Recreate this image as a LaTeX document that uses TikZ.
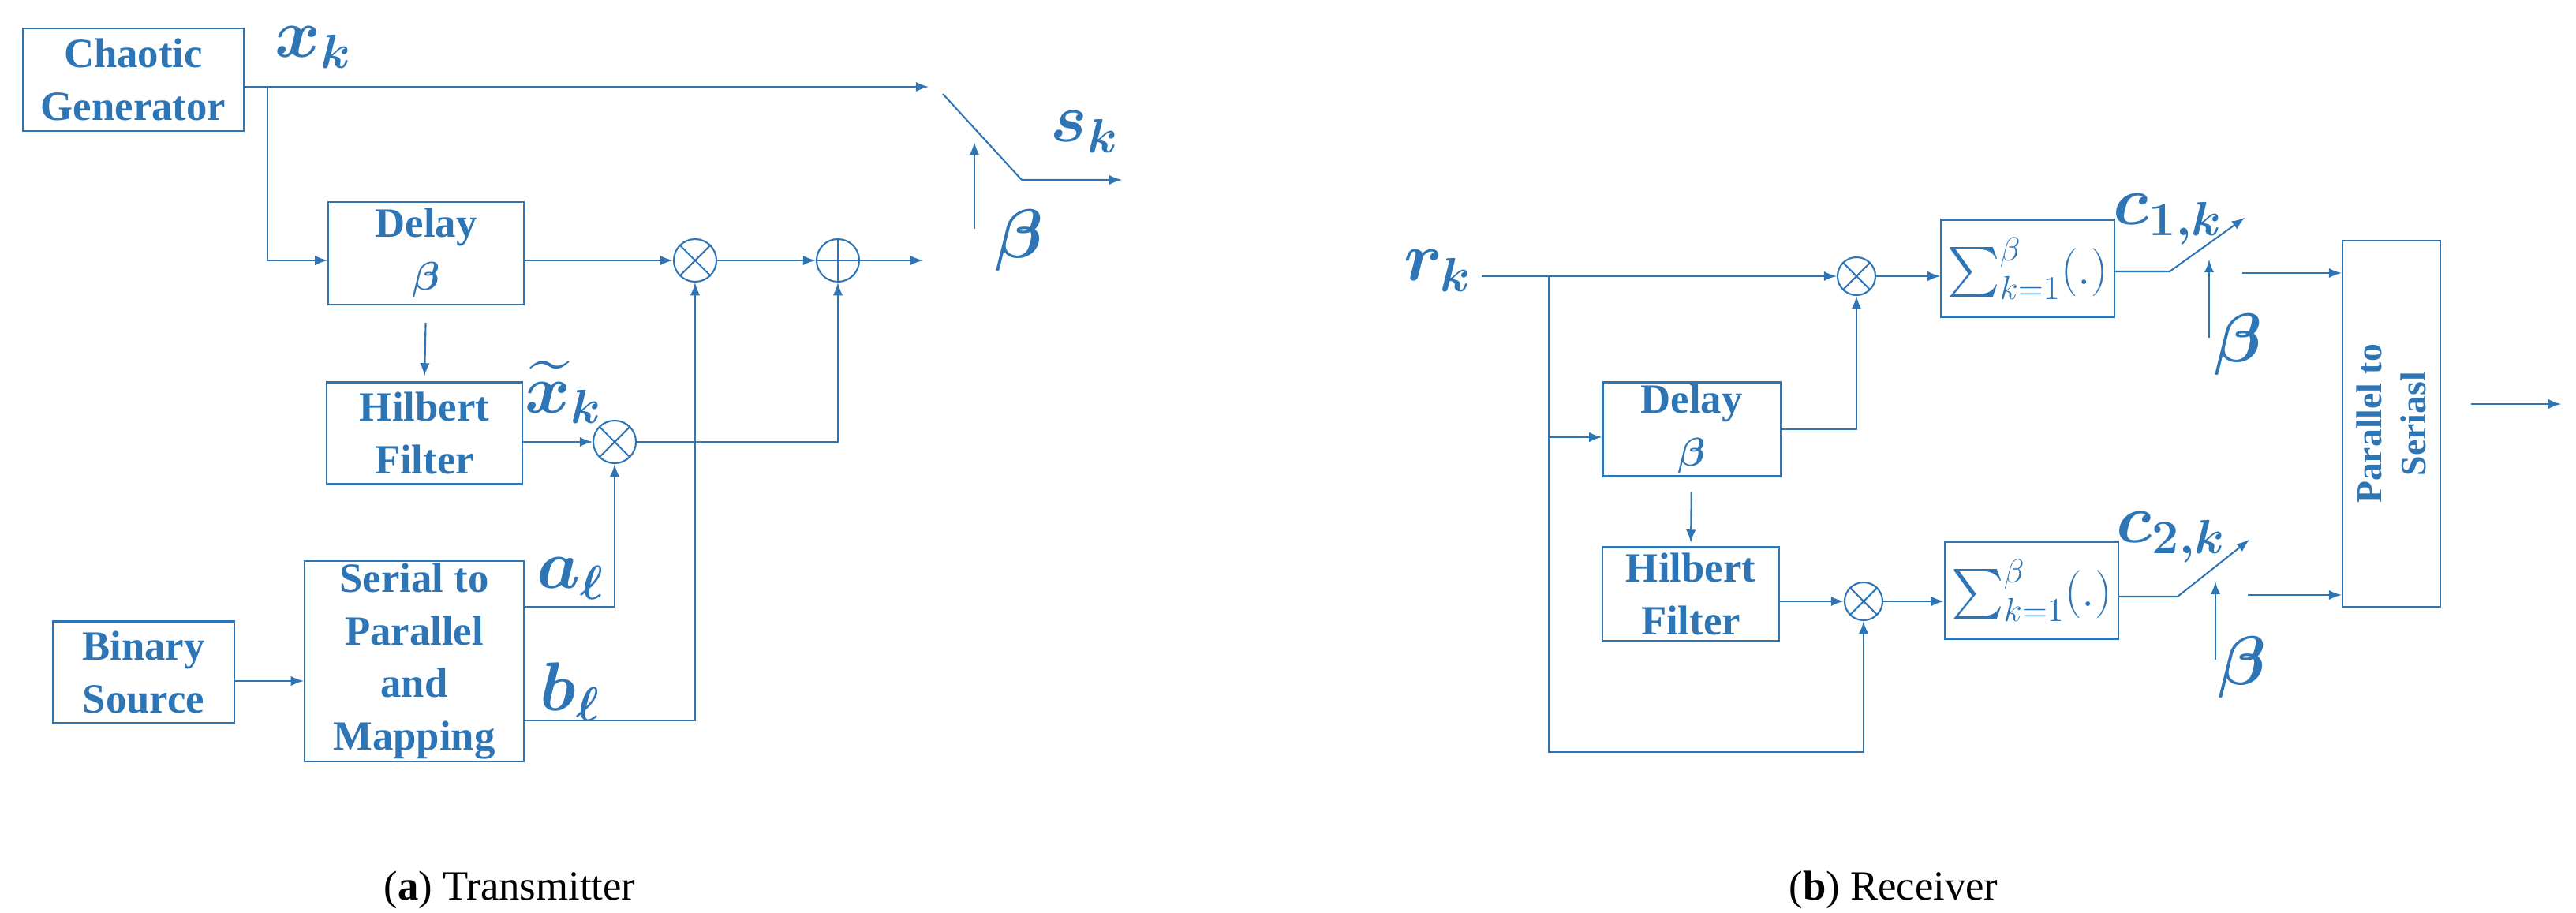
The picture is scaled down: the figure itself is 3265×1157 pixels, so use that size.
\documentclass[tikz,border=0pt]{standalone}
\usepackage{amsmath}
\usepackage{amssymb}
\usepackage{bm}
\usepackage{fontspec}
\setmainfont{Liberation Serif}
\usetikzlibrary{positioning}
\definecolor{lineblue}{RGB}{46,117,182}

\tikzset{
  blk/.style={draw=lineblue, line width=0.6pt, align=center, inner sep=0pt,
    font=\fontsize{15}{19}\selectfont\bfseries},
  mul/.style={draw=lineblue, line width=0.6pt, circle, inner sep=0pt, minimum size=#1},
  lab/.style={inner sep=0pt, font=\fontsize{26}{28}\selectfont},
  captxt/.style={inner sep=0pt, font=\fontsize{15}{18}\selectfont}
}

\begin{document}
\begin{tikzpicture}[x=0.01cm, y=-0.01cm, >=latex, line width=0.6pt, lineblue]
      \useasboundingbox (0,0) rectangle (3265,1157);

      % transmitter
      \node[blk, minimum width=2.80cm, minimum height=1.30cm]  (CG)  at ( 169, 101)  {Chaotic\\Generator};
      \node[blk, minimum width=2.47cm, minimum height=1.30cm]  (DL)  at ( 540, 321)  {Delay\\$\bm{\beta}$};
      \node[blk, minimum width=2.47cm, minimum height=1.29cm]  (HL)  at ( 538, 549)  {Hilbert\\Filter};
      \node[blk, minimum width=2.29cm, minimum height=1.29cm]  (BS)  at ( 182, 852)  {Binary\\Source};
      \node[blk, minimum width=2.78cm, minimum height=2.53cm]  (SP)  at ( 525, 838)  {Serial to\\Parallel\\and\\Mapping};

      \node[mul=0.54cm] (M1)  at ( 881, 330) {};
      \node[mul=0.54cm] (AD)  at (1062, 330) {};
      \node[mul=0.54cm] (M2)  at ( 779, 560) {};
      \draw (M1.north west) -- (M1.south east) (M1.north east) -- (M1.south west);
      \draw (M2.north west) -- (M2.south east) (M2.north east) -- (M2.south west);
      \draw (AD.north) -- (AD.south) (AD.west) -- (AD.east);

      \coordinate (T1)  at (1177, 110);
      \coordinate (B1)  at ( 339, 110);
      \coordinate (SW1) at (1195, 119);
      \coordinate (SW2) at (1295, 228);
      \coordinate (SW3) at (1422, 228);
      \coordinate (BE1) at (1235, 290);
      \coordinate (BE2) at (1235, 180);
      \coordinate (SO)  at (1170, 330);
      \coordinate (A0)  at ( 664, 769);
      \coordinate (B0)  at ( 664, 913);

      \draw[->] (CG.east |- T1) -- (T1);
      \draw[->] (B1) |- (DL.west |- M1);
      \draw[->] (DL.east |- M1) -- (M1.west);
      \draw[->] (M1.east) -- (AD.west);
      \draw[->] (AD.east) -- (SO);
      \draw[->, shorten <=0.22cm, shorten >=0.07cm] (DL.south) -- (HL.north);
      \draw[->] (HL.east |- M2) -- (M2.west);
      \draw[->] (M2.east) -| (AD.south);
      \draw[->] (BS.east |- 0,863) -- (SP.west |- 0,863);
      \draw[->] (A0) -| (M2.south);
      \draw[->] (B0) -| (M1.south);
      \draw[->] (SW1) -- (SW2) -- (SW3);
      \draw[->] (BE1) -- (BE2);

      \node[lab] (XK)  at ( 397,  60) {$\bm{x_k}$};
      \node[lab] (SK)  at (1375, 167) {$\bm{s_k}$};
      \node[lab] (BT1) at (1292, 305) {$\bm{\beta}$};
      \node[lab] (XT)  at ( 714, 497) {$\bm{\widetilde{x}_k}$};
      \node[lab] (AL)  at ( 723, 733) {$\bm{a_\ell}$};
      \node[lab] (BL)  at ( 723, 877) {$\bm{b_\ell}$};

      % receiver
      \node[blk, minimum width=2.25cm, minimum height=1.19cm]  (DR)  at (2144, 544)  {Delay\\$\bm{\beta}$};
      \node[blk, minimum width=2.24cm, minimum height=1.19cm]  (HR)  at (2143, 753)  {Hilbert\\Filter};
      \node[blk, minimum width=2.19cm, minimum height=1.23cm, font=\fontsize{18}{20}\selectfont]  (S1)  at (2570, 340)  {$\sum_{k=1}^{\beta}(.)$};
      \node[blk, minimum width=2.20cm, minimum height=1.23cm, font=\fontsize{18}{20}\selectfont]  (S2)  at (2575, 748)  {$\sum_{k=1}^{\beta}(.)$};
      \node[blk, minimum width=4.63cm, minimum height=1.24cm, rotate=90, font=\fontsize{13}{16}\selectfont\bfseries]  (PS)  at (3031, 537)  {Parallel to\\Seriasl};

      \node[mul=0.48cm] (R1)  at (2353, 350) {};
      \node[mul=0.48cm] (R2)  at (2362, 762) {};
      \draw (R1.north west) -- (R1.south east) (R1.north east) -- (R1.south west);
      \draw (R2.north west) -- (R2.south east) (R2.north east) -- (R2.south west);

      \coordinate (R0)  at (1878, 350);
      \coordinate (BT)  at (1963, 350);
      \coordinate (BB)  at (1963, 953);
      \coordinate (BD)  at (1963, 554);
      \coordinate (C1a) at (2750, 344);
      \coordinate (C1b) at (2845, 276);
      \coordinate (C1c) at (2842, 346);
      \coordinate (C2a) at (2760, 756);
      \coordinate (C2b) at (2851, 684);
      \coordinate (C2c) at (2849, 754);
      \coordinate (O1)  at (3132, 512);
      \coordinate (O2)  at (3246, 512);

      \draw[->] (R0) -- (R1.west);
      \draw[->] (BT) -- (BB) -| (R2.south);
      \draw[->] (BD) -- (DR.west |- BD);
      \draw[->] (DR.east) -| (R1.south);
      \draw[->, shorten <=0.19cm, shorten >=0.05cm] (DR.south) -- (HR.north);
      \draw[->] (HR.east |- R2) -- (R2.west);
      \draw[->] (R1.east) -- (S1.west |- R1);
      \draw[->] (R2.east) -- (S2.west |- R2);
      \draw[->] (S1.east |- C1a) -- (C1a) -- (C1b);
      \draw[->] (S2.east |- C2a) -- (C2a) -- (C2b);
      \draw[->] (2800, 428) -- (2800, 329);
      \draw[->] (2808, 836) -- (2808, 737);
      \draw[->] (C1c) -- (PS.north |- C1c);
      \draw[->] (C2c) -- (PS.north |- C2c);
      \draw[->] (O1) -- (O2);

      \node[lab] (RK)  at (1822, 343) {$\bm{r_k}$};
      \node[lab] (CK1) at (2748, 278) {$\bm{c_{1,k}}$};
      \node[lab] (CK2) at (2752, 681) {$\bm{c_{2,k}}$};
      \node[lab] (BT2) at (2837, 437) {$\bm{\beta}$};
      \node[lab] (BT3) at (2842, 846) {$\bm{\beta}$};

      % captions
      \node[captxt, black] (CA) at ( 646, 1128) {(\textbf{a}) Transmitter};
      \node[captxt, black] (CB) at (2400, 1128) {(\textbf{b}) Receiver};
    \end{tikzpicture}
\end{document}
